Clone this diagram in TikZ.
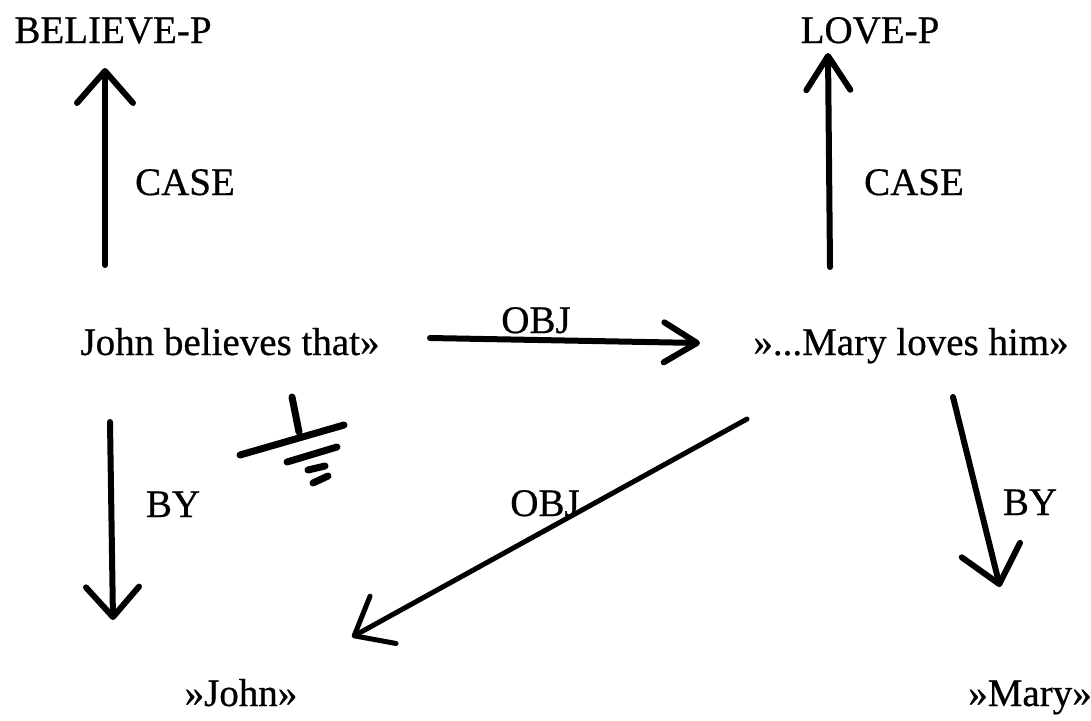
\documentclass[tikz,border=0pt]{standalone}
\usepackage{fontspec}
\setmainfont{Liberation Serif}[FakeBold=0.6]
\usetikzlibrary{arrows.meta}
\begin{document}
\begin{tikzpicture}[x=1pt,y=-1pt,
  lbl/.style={inner sep=0pt, anchor=base, font=\fontsize{39}{47}\selectfont},
  arr/.style={line width=6pt, line cap=round,
    -{Straight Barb[length=32pt,width=56pt,round]}},
  earth/.style={line width=7pt, line cap=round}]
\useasboundingbox (0,0) rectangle (1091,720);

% concepts and relation labels
\node[lbl] (believe) at (113,43)  {BELIEVE-P};
\node[lbl] (love)    at (870,43)  {LOVE-P};
\node[lbl] (caseL)   at (185,195) {CASE};
\node[lbl] (caseR)   at (914,195) {CASE};
\node[lbl] (john)    at (230,355) {John believes that»};
\node[lbl] (mary)    at (911,355) {»...Mary loves him»};
\node[lbl] (objT)    at (536,333) {OBJ};
\node[lbl] (byL)     at (173,517) {BY};
\node[lbl] (objD)    at (545,516) {OBJ};
\node[lbl] (byR)     at (1030,515) {BY};
\node[lbl] (johnE)   at (241,706) {»John»};
\node[lbl] (maryE)   at (1030,706) {»Mary»};

% arrow end points next to their concepts
\coordinate (john-up)    at (105,265);
\coordinate (believe-in) at (105,68);
\coordinate (mary-up)    at (830,267);
\coordinate (love-in)    at (828,53);
\coordinate (john-out)   at (430,338);
\coordinate (mary-in)    at (700,343);
\coordinate (john-down)  at (110,422);
\coordinate (johnE-in)   at (113,620);
\coordinate (mary-diag)  at (747,419);
\coordinate (johnE-diag) at (352,637);
\coordinate (mary-down)  at (953,397);
\coordinate (maryE-in)   at (1000,587);

% relations
\draw[arr] (john-up) -- (believe-in);
\draw[arr, -{Straight Barb[length=34pt,width=44pt,round]}] (mary-up) -- (love-in);
\draw[arr, -{Straight Barb[length=33pt,width=40pt,round]}] (john-out) -- (mary-in);
\draw[arr, -{Straight Barb[length=30pt,width=53pt,round]}] (john-down) -- (johnE-in);
\draw[arr, line width=5pt, -{Straight Barb[length=33pt,width=54pt,round]}] (mary-diag) -- (johnE-diag);
\draw[arr, -{Straight Barb[length=35pt,width=60pt,round]}] (mary-down) -- (maryE-in);

% earth sign under the belief
\draw[earth] (292,397) -- (299,432);
\draw[earth] (240,455) -- (344,425);
\draw[earth] (287,462) -- (337,447);
\draw[earth] (308,470) -- (325,466);
\draw[earth] (313,483) -- (328,476);
\end{tikzpicture}
\end{document}
